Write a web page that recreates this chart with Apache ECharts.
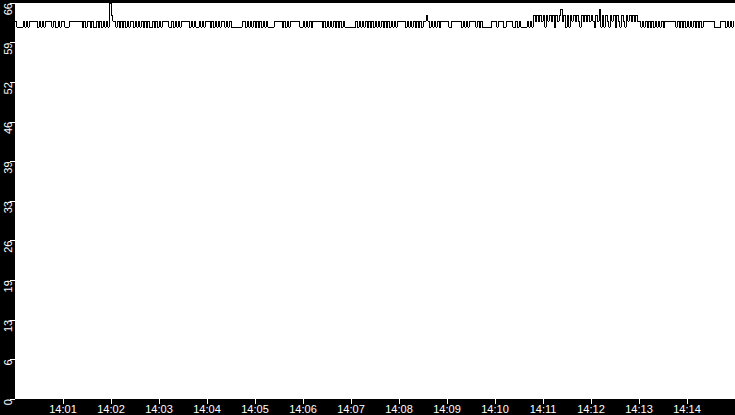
<!DOCTYPE html>
<html>
<head>
<meta charset="utf-8">
<script src="https://cdn.jsdelivr.net/npm/echarts@6/dist/echarts.min.js"></script>
<style>
html,body{margin:0;padding:0;background:#000;}
#chart{width:735px;height:415px;}
#chart svg path{shape-rendering:crispEdges;}
</style>
</head>
<body>
<div id="chart"></div>
<script>
// Start of the record: 14:00:00, one sample every 2 seconds, one array per minute.
var START_HOUR = 14;
var STEP_SECONDS = 2;

var m00 = [63,62,62,62,62,63,62,63,62,63,63,63,63,63,62,63,62,63,62,63,63,63,63,62,63,62,62,63,62,63];
var m01 = [63,62,62,62,63,63,63,63,63,63,63,63,62,63,62,63,63,62,63,62,62,63,62,63,62,63,62,63,62,66];
var m02 = [64,63,63,62,63,62,63,62,63,62,63,62,63,63,62,63,62,63,62,63,62,63,62,63,62,62,63,62,63,62];
var m03 = [63,62,63,63,63,63,62,62,63,62,63,62,63,62,63,63,63,63,63,62,63,62,63,62,62,63,62,63,62,63];
var m04 = [63,63,62,63,62,63,62,63,62,63,63,62,63,62,63,62,62,62,62,62,62,62,63,63,62,63,62,63,62,63];
var m05 = [62,63,62,63,62,63,62,63,62,62,62,62,63,63,63,63,63,62,63,62,63,62,63,63,63,63,63,63,62,62];
var m06 = [63,62,63,62,63,62,63,63,63,63,63,63,62,63,62,63,62,63,62,63,62,63,62,63,62,63,62,62,62,62];
var m07 = [62,62,62,63,62,63,62,63,62,63,62,63,62,63,62,63,62,63,62,63,62,63,62,63,62,63,62,63,62,63];
var m08 = [63,63,63,63,62,63,62,63,62,63,62,63,62,63,62,63,63,64,63,62,63,62,63,62,63,62,63,63,63,63];
var m09 = [63,62,62,63,63,63,63,63,63,62,63,62,63,62,63,63,63,63,62,63,62,63,62,62,62,62,62,62,63,63];
var m10 = [63,62,63,63,63,62,62,63,63,63,63,62,62,63,62,63,62,62,62,62,63,62,63,62,64,63,64,63,64,63];
var m11 = [64,62,64,63,64,63,64,62,64,63,64,65,63,64,62,64,62,64,63,64,63,64,63,62,64,63,64,63,64,63];
var m12 = [64,63,62,64,63,65,62,64,62,64,63,62,64,63,64,62,64,63,62,64,63,62,64,63,64,63,64,63,64,63];
var m13 = [63,62,63,62,63,62,63,62,63,62,63,62,63,62,63,62,63,63,63,63,63,63,63,62,63,62,63,62,63,62];
var m14 = [63,62,63,62,63,62,63,62,63,62,63,63,63,63,63,63,63,62,62,62,62,63,63,63,62,63,62,63,62,63];

var minutes = [m00,m01,m02,m03,m04,m05,m06,m07,m08,m09,m10,m11,m12,m13,m14];
var seriesData = [];
minutes.forEach(function (arr, mi) {
  arr.forEach(function (v, i) {
    seriesData.push([mi * 60 + i * STEP_SECONDS, v]);
  });
});

function pad(n){ return (n < 10 ? '0' : '') + n; }

var chart = echarts.init(document.getElementById('chart'), null, {renderer: 'svg'});
chart.setOption({
  animation: false,
  backgroundColor: '#000',
  grid: {left: 15, right: 0, top: 0, bottom: 16, show: true, backgroundColor: '#fff', borderWidth: 0, containLabel: false},
  xAxis: {
    type: 'value', min: 0, max: 900, interval: 60,
    axisLine: {show: false},
    axisTick: {show: true, length: 5, inside: false, lineStyle: {color: '#fff', width: 1}},
    splitLine: {show: false},
    axisLabel: {
      color: '#fff', fontFamily: 'Liberation Sans', fontSize: 11, margin: 4,
      showMinLabel: false, showMaxLabel: false,
      formatter: function (v) { var t = Math.round(v / 60); return (START_HOUR + Math.floor(t / 60)) + ':' + pad(t % 60); }
    }
  },
  yAxis: {
    type: 'value', min: 0, max: 66, interval: 6.6,
    axisLine: {show: false},
    axisTick: {show: true, length: 5, lineStyle: {color: '#fff', width: 1}},
    splitLine: {show: false},
    axisLabel: {
      color: '#fff', fontFamily: 'Liberation Sans', fontSize: 11, margin: 2,
      rotate: 90, align: 'right',
      formatter: function (v) { return String(Math.floor(v + 1e-6)); }
    }
  },
  series: [{
    type: 'line', step: 'end', data: seriesData, showSymbol: false, symbol: 'none',
    lineStyle: {color: '#000', width: 1}, silent: true
  }]
});
</script>
</body>
</html>
